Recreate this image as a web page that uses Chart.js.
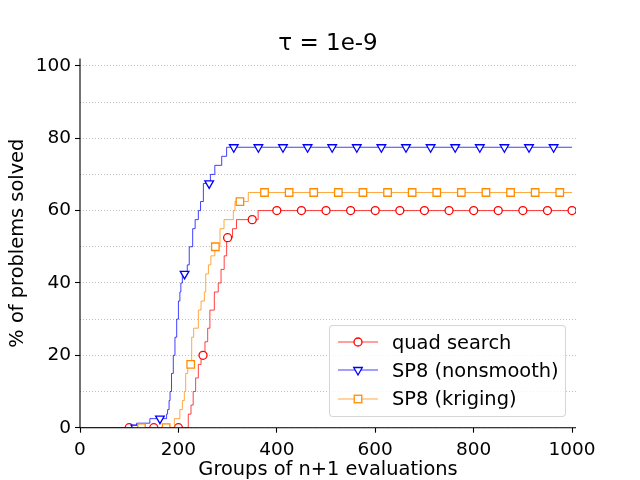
<!DOCTYPE html>
<html>
<head>
<meta charset="utf-8">
<script src="https://cdn.jsdelivr.net/npm/chart.js@4.4.0/dist/chart.umd.min.js"></script>
<style>
    html, body {margin: 0; padding: 0; background: #fff;}
    #wrap {position: relative; width: 640px; height: 480px;}
    #legend {
        position: absolute; left: 329px; top: 325px; width: 235px; height: 88px;
        border: 1px solid rgba(204, 204, 204, 0.8); border-radius: 4px;
        background: rgba(255, 255, 255, 0.8);
        font-family: "DejaVu Sans"; font-size: 19.4px; color: #000;
        padding-top: 2px; box-sizing: content-box;
    }
    .row {height: 28.3px; display: flex; align-items: center; white-space: nowrap;}
    .row svg {margin-left: 8px; margin-right: 14px; flex: none;}
</style>
</head>
<body>
<div id="wrap">
    <canvas id="chart" width="640" height="480"></canvas>
    <div id="legend"></div>
</div>
<script>
"use strict";

// step points: value jumps to y at x
const quadX = [0, 220, 225.6, 230, 235, 240.5, 246, 254, 259.5, 264, 273, 281, 286.6, 293, 298, 310, 318, 362, 1000];
const quadY = [0, 3.75, 6.25, 10, 13.75, 17.5, 20, 23.75, 27.5, 32.5, 37.5, 40, 43.75, 47.5, 52.5, 55, 57.5, 60, 60];

const nonsX = [0, 115, 142, 176, 178, 181, 183, 186, 189.6, 193, 196.5, 200, 203, 205, 208, 218, 222, 229, 234, 240.5, 245, 250.7, 265, 274, 288, 298, 1000];
const nonsY = [0, 1.25, 2.5, 3.75, 5, 7.5, 10, 15, 20, 25, 30, 35, 37.5, 40, 42.5, 45, 50, 55, 57.5, 60, 62.5, 67.5, 70, 72.5, 75, 77.5, 77.5];

const krigX = [0, 191.7, 203, 208, 212, 214.8, 219, 227, 231, 240.5, 246, 252.7, 255.5, 261, 266, 274, 284.5, 292.7, 311.6, 315, 342, 1000];
const krigY = [0, 2.5, 5, 7.5, 10, 15, 17.5, 25, 27.5, 32.5, 35, 37.5, 42.5, 45, 47.5, 50, 55, 57.5, 60, 62.5, 65, 65];

// where the markers sit on each curve
const quadMarkX = [100, 150, 200, 250, 300, 350, 400, 450, 500, 550, 600, 650, 700, 750, 800, 850, 900, 950, 1000];
const nonsMarkX = [112.5, 162.5, 212.5, 262.5, 312.5, 362.5, 412.5, 462.5, 512.5, 562.5, 612.5, 662.5, 712.5, 762.5, 812.5, 862.5, 912.5, 962.5];
const krigMarkX = [125, 175, 225, 275, 325, 375, 425, 475, 525, 575, 625, 675, 725, 775, 825, 875, 925, 975];

const xTicks = [0, 200, 400, 600, 800, 1000];
const yTicks = [0, 20, 40, 60, 80, 100];

const series = [
    {label: 'quad search', xs: quadX, ys: quadY, marks: quadMarkX, color: '#ff0000', line: 'rgba(255,0,0,0.75)', style: 'circle', radius: 4, rot: 0},
    {label: 'SP8 (nonsmooth)', xs: nonsX, ys: nonsY, marks: nonsMarkX, color: '#0000ff', line: 'rgba(0,0,255,0.75)', style: 'triangle', radius: 5, rot: 180},
    {label: 'SP8 (kriging)', xs: krigX, ys: krigY, marks: krigMarkX, color: '#ff8c00', line: 'rgba(255,140,0,0.75)', style: 'rect', radius: 5.3, rot: 0},
];

function stepValue(xs, ys, x) {
    let v = ys[0];
    for (let i = 0; i < xs.length; i++) {
        if (xs[i] <= x) v = ys[i];
    }
    return v;
}

const datasets = [];
series.forEach(function (s, i) {
    datasets.push({
        label: s.label,
        data: s.xs.map((x, j) => ({x: x, y: s.ys[j]})),
        stepped: 'before',
        borderColor: s.line,
        borderWidth: 1,
        pointRadius: 0,
        fill: false,
        order: 10 - 2 * i,
    });
    datasets.push({
        label: s.label + ' markers',
        data: s.marks.map(x => ({x: x, y: stepValue(s.xs, s.ys, x)})),
        showLine: false,
        pointStyle: s.style,
        pointRotation: s.rot,
        pointRadius: s.radius,
        pointBorderWidth: 1.3,
        pointBorderColor: s.color,
        pointBackgroundColor: '#ffffff',
        order: 9 - 2 * i,
    });
});

// left and bottom spines on top of the lines
const spines = {
    id: 'spines',
    afterDatasetsDraw(chart) {
        const a = chart.chartArea;
        const ctx = chart.ctx;
        ctx.save();
        ctx.strokeStyle = '#000';
        ctx.lineWidth = 1.1;
        ctx.beginPath();
        ctx.moveTo(a.left, a.top);
        ctx.lineTo(a.left, a.bottom);
        ctx.lineTo(a.right, a.bottom);
        ctx.stroke();
        ctx.restore();
    }
};

Chart.defaults.font.family = 'DejaVu Sans';
Chart.defaults.color = '#000';

new Chart(document.getElementById('chart'), {
    type: 'line',
    data: {datasets: datasets},
    options: {
        responsive: false,
        animation: false,
        layout: {padding: {left: 0, right: 64, top: 0, bottom: 0}},
        plugins: {
            legend: {display: false},
            tooltip: {enabled: false},
            title: {
                display: true,
                text: 'τ = 1e-9',
                fullSize: false,
                color: '#000',
                font: {size: 23, weight: 'normal'},
                padding: {top: 30, bottom: 1},
            },
        },
        scales: {
            x: {
                type: 'linear',
                min: 0,
                max: 1008,
                afterBuildTicks: scale => { scale.ticks = xTicks.map(v => ({value: v})); },
                afterFit: scale => { scale.height = 52.3; },
                ticks: {font: {size: 18.5}, padding: 6, maxRotation: 0, color: '#000', callback: v => String(v)},
                grid: {drawOnChartArea: false, drawTicks: true, tickLength: 5, tickColor: '#000', tickWidth: 1.1},
                border: {display: false},
                title: {display: true, text: 'Groups of n+1 evaluations', font: {size: 19.4, lineHeight: 1.05}, padding: {top: 0, bottom: 0}, color: '#000'},
            },
            y: {
                type: 'linear',
                min: 0,
                max: 102,
                afterBuildTicks: scale => {
                    const t = [];
                    for (let v = 0; v <= 100; v += 10) t.push({value: v});
                    scale.ticks = t;
                },
                afterFit: scale => { scale.width = 80; },
                ticks: {
                    font: {size: 18.5}, padding: 4, color: '#000',
                    callback: v => (yTicks.indexOf(v) >= 0 ? String(v) : ''),
                },
                grid: {
                    drawOnChartArea: true,
                    drawTicks: true,
                    tickLength: 5,
                    color: '#b0b0b0',
                    lineWidth: 0.8,
                    borderDash: [1, 2],
                    tickBorderDash: [],
                    tickWidth: 1.1,
                    tickColor: ctx => (ctx.tick && yTicks.indexOf(ctx.tick.value) >= 0 ? '#000' : 'rgba(0,0,0,0)'),
                },
                border: {display: false, dash: ctx => (ctx.type === 'tick' ? [1, 2] : [])},
                title: {display: true, text: '% of problems solved', font: {size: 19.4}, padding: {top: 6, bottom: 0}, color: '#000'},
            },
        },
    },
    plugins: [spines],
});

// legend box like matplotlib's, handles drawn as small svgs
const legend = document.getElementById('legend');
series.forEach(function (s) {
    let mark = '';
    if (s.style === 'circle') {
        mark = '<circle cx="20" cy="10" r="4" fill="#fff" stroke="' + s.color + '" stroke-width="1.3"/>';
    } else if (s.style === 'triangle') {
        mark = '<polygon points="15.7,7.5 24.3,7.5 20,15" fill="#fff" stroke="' + s.color + '" stroke-width="1.3"/>';
    } else {
        mark = '<rect x="16.25" y="6.25" width="7.5" height="7.5" fill="#fff" stroke="' + s.color + '" stroke-width="1.3"/>';
    }
    const row = document.createElement('div');
    row.className = 'row';
    row.innerHTML = '<svg width="40" height="20"><line x1="0" y1="10" x2="40" y2="10" stroke="' + s.line +
        '" stroke-width="1"/>' + mark + '</svg><span>' + s.label + '</span>';
    legend.appendChild(row);
});
</script>
</body>
</html>
